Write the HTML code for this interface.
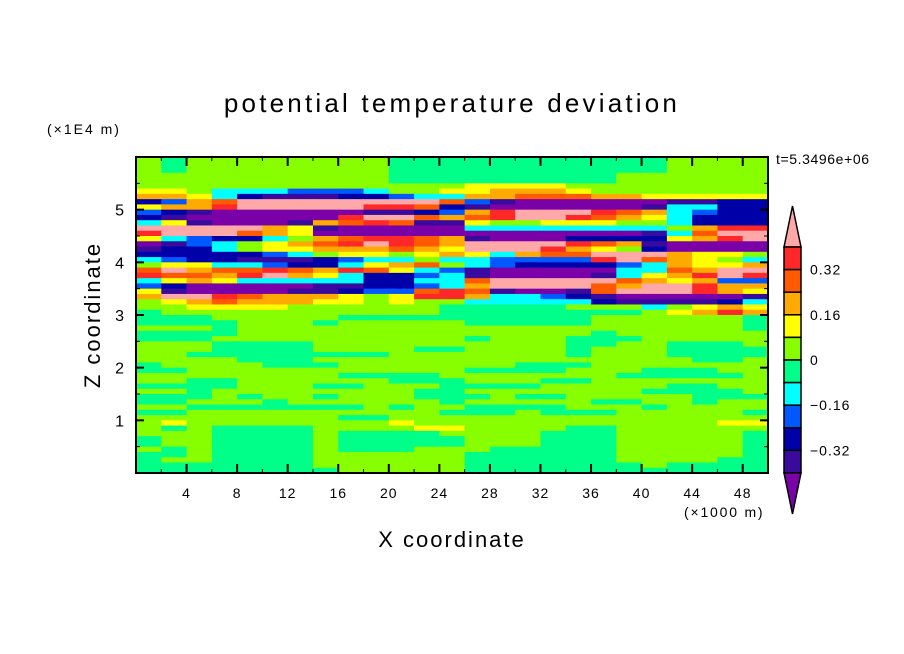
<!DOCTYPE html>
<html><head><meta charset="utf-8"><style>
html,body{margin:0;padding:0;background:#fff;}
svg{display:block;font-family:"Liberation Sans",sans-serif;}
</style></head><body>
<svg id="chart" width="904" height="654" viewBox="0 0 904 654">
<text x="452" y="112" text-anchor="middle" font-size="26" letter-spacing="3.2">potential temperature deviation</text>
<text x="47" y="134" font-size="14" letter-spacing="2">(×1E4 m)</text>
<text x="776" y="164" font-size="14" letter-spacing="0.6">t=5.3496e+06</text>
<text x="100" y="315" font-size="22" letter-spacing="2" text-anchor="middle" transform="rotate(-90 100 315)">Z coordinate</text>
<text x="452" y="547" font-size="22" letter-spacing="2" text-anchor="middle">X coordinate</text>
<text x="684" y="517" font-size="14" letter-spacing="1.8">(×1000 m)</text>
<g id="field"></g>
<g id="axes"></g>
<g id="cbar"></g>
</svg>
<script>
const levelColors = ["#7a00a8","#3a0a9e","#0000a8","#0058ff","#00ffff","#00ff88","#88ff00","#ffff00","#ffaa00","#ff5a00","#ff2828","#ffa8a8"];
const levelCodes = "PIDBCGLYOREK";
const cbarLabels = ["0.32","0.16","0","-0.16","-0.32"];
const cbarLabelValues = [0.32,0.16,0,-0.16,-0.32];
const xTicks = [4,8,12,16,20,24,28,32,36,40,44,48];
const yTicks = [1,2,3,4,5];
const gridRows = [
"L G L L L L L L L L G G G G G G G G G G G L L L L",
"L G L L L L L L L L G G G G G G G G G G G L L L L",
"L G L L L L L L L L G G G G G G G G G G G L L L L",
"L L L L L L L L L L G G G G G G G G G L L L L L L",
"L L L L L L L L L L G G G G G G G G G L L L L L L",
"L L L L L L L L L L L L L Y Y Y Y L L L L L L L L",
"Y Y L C C C B B B C L L Y Y O O O Y L L L L L L L",
"O O Y C D I I I D D B C C O O R R R O O Y Y Y Y Y",
"D B O R K K K K K K K K R B I P P P P P P I I D D",
"Y O O E K K K K K E E R D I P P P P P P I C C D D",
"B D I P P P P P P I I D B O E K K K E R O C B D D",
"D I P P P P P P E K K R O R E K K E R O Y C D D D",
"C Y I P P P I O R E R I I Y L L Y Y Y L L C D D D",
"K K K K K O Y I P P P P P C C C C C C C C L O E E",
"E K K K R O Y P P P P P P P P P P P P P I C R K K",
"Y C B D D C L O R E E R O I P P P D D D D Y O E K",
"P I B C L Y O R E K E R O K K K K E R O I P P P P",
"I D D C L Y Y O O O R O Y K K K E O Y L D P P P P",
"D D D D D B C L Y Y L Y O Y C O R R K K K O Y Y L",
"C B D D I I I D B C C L C C B B B B E K R O Y L C",
"L Y Y C C B D D C Y O R L C B D D D D B C O Y Y O",
"R K O R R E R O E R Y C B I P P P P P C C R O K K",
"E R R O E K O Y C D D B C I P P P P I C Y O E K E",
"C Y O Y C C C C C D D C C R K K K K K R O Y O B B",
"B D P P P P P I I D D B C O K K K K R O K K E O O",
"Y I P P P P I I D B B R E R I P P I R K K K E O Y",
"O K K E R O O O Y L Y E E O C C B D I P P P P P I",
"L Y O R O O O Y Y L Y L L C C C C C D I I I I D C",
"L L Y Y Y Y L L L L L L G G G G G L L L C L Y O Y",
"G L L L L L L L L L L L G G G G G G G G L Y O E O",
"G G G L L L L L G G G G G G G G G G L L L L L L G",
"G G G G L L L G L L L L L G G G G G L L L L L L G",
"L L L G L L L L L L L L L L L L L L L L L L L L G",
"G G G G L L L L L L L L L L L L L L G L L L L L L",
"G G G L L L L L L L L L L G L L L G G G L L L L L",
"L L L G G G G L L L L L L L L L L G G L L G G G L",
"L L L G G G G L L L L G G L L L L G L L L G G G G",
"L L G G G G G G G G L L L L L L L G L L L G G G G",
"L L L L G G G L L L L L L L L L L L L L L L G G L",
"G L L L L G G G L L L L L L L G G G L L L L L L L",
"G G L L L L L L L L L L L G G G G L L L G G G L L",
"L L L L L L L L G G G G L L L L L L L G G G G G L",
"L L G G L L L L L L G G G L L L G G L L L L L L L",
"G G G G L L L G G L L L G G G G L L L L L G G L L",
"L L G L L L L L L L L G G L L L L L L L G G G G L",
"G G G L G L L G L L L G G G L G G L L L L L G G G",
"G G L L L G L L L L L L G L L L L L G G L L G L L",
"L L G G G G G G G L G L L G G G G L L L G L L L L",
"G G L L L L L L L L L L G G G L G G G L L L L L G",
"L L L L L L L L G G L L L L L L L L L L L L L L L",
"L Y L L L L L L L L Y L L L L L L L L L L L L Y Y",
"L G L G G G G L L L L Y Y L L L L G G L L L L L L",
"L L L G G G G L G G G G L L L L G G G L L L L L G",
"G L L G G G G L G G G G G L L L G G G L L L L L G",
"G L L G G G G L G G G G G L L L G G G L L L L L G",
"L G L G G G G L G G G L L L G G G G G L L L L L G",
"G G L G G G G L L L L L L G G G G G G L L L L L G",
"G L L G G G G L L L L L L G G G G G G L L L L G G",
"G G G G G G G L L L L L L G G G G G G G L G G G G",
"G G G G G G G G L L L L L G G G G G G G G G G G G"
];
const X0=136,X1=768,Y0=473,Y1=157,XMAX=50,ZMAX=6;
function sx(v){return X0+(X1-X0)*v/XMAX;}
function sy(v){return Y0-(Y0-Y1)*v/ZMAX;}
const NS="http://www.w3.org/2000/svg";
function mk(tag,attrs,parent){const e=document.createElementNS(NS,tag);for(const k in attrs)e.setAttribute(k,attrs[k]);parent.appendChild(e);return e;}
const field=document.getElementById('field');
const dz=ZMAX/gridRows.length;
gridRows.forEach((row,i)=>{
  const cells=row.trim().split(/\s+/);
  const dx=XMAX/cells.length;
  const zTop=ZMAX-i*dz, zBot=ZMAX-(i+1)*dz;
  cells.forEach((c,j)=>{
    let idx=levelCodes.indexOf(c); if(idx<0) idx=6;
    const r=mk('rect',{x:sx(j*dx),y:sy(zTop),width:sx((j+1)*dx)-sx(j*dx)+0.6,height:sy(zBot)-sy(zTop)+0.6,fill:levelColors[idx]},field);
    
    
  });
});
const axes=document.getElementById('axes');
const frame=mk('rect',{x:X0,y:Y1,width:X1-X0,height:Y0-Y1,fill:'none',stroke:'#000','stroke-width':2},axes);


xTicks.forEach(t=>{
  const x=sx(t);
  mk('line',{x1:x,y1:Y0,x2:x,y2:Y0-9,stroke:'#000','stroke-width':2},axes);
  mk('line',{x1:x,y1:Y1,x2:x,y2:Y1+9,stroke:'#000','stroke-width':2},axes);
  mk('line',{x1:sx(t-2),y1:Y0,x2:sx(t-2),y2:Y0-4,stroke:'#000','stroke-width':1},axes);
  mk('line',{x1:sx(t-2),y1:Y1,x2:sx(t-2),y2:Y1+4,stroke:'#000','stroke-width':1},axes);
  const tx=mk('text',{x:x,y:Y0+25,'font-size':14,'text-anchor':'middle','letter-spacing':1},axes);
  tx.textContent=String(t);
  
  
});
yTicks.forEach(t=>{
  const y=sy(t);
  mk('line',{x1:X0,y1:y,x2:X0+8,y2:y,stroke:'#000','stroke-width':2},axes);
  mk('line',{x1:X1,y1:y,x2:X1-8,y2:y,stroke:'#000','stroke-width':2},axes);
  mk('line',{x1:X0,y1:sy(t-0.5),x2:X0+4,y2:sy(t-0.5),stroke:'#000','stroke-width':1},axes);
  mk('line',{x1:X1,y1:sy(t-0.5),x2:X1-4,y2:sy(t-0.5),stroke:'#000','stroke-width':1},axes);
  const tx=mk('text',{x:X0-12,y:y+6,'font-size':16,'text-anchor':'end'},axes);
  tx.textContent=String(t);
  
  
});
mk('line',{x1:X0,y1:sy(5.5),x2:X0+4,y2:sy(5.5),stroke:'#000'},axes);
mk('line',{x1:X1,y1:sy(5.5),x2:X1-4,y2:sy(5.5),stroke:'#000'},axes);
const cb=document.getElementById('cbar');
const CBX0=784,CBX1=801,CBTOP=247,CBBOT=473;
const nBox=levelColors.length-2;
const boxH=(CBBOT-CBTOP)/nBox;
function cy(v){return CBTOP+(0.4-v)/0.8*(CBBOT-CBTOP);}
const topArrow=mk('polygon',{points:`${CBX0},${CBTOP} ${(CBX0+CBX1)/2},206 ${CBX1},${CBTOP}`,fill:levelColors[11],stroke:'#000','stroke-width':1.5},cb);


for(let k=0;k<nBox;k++){
  const r=mk('rect',{x:CBX0,y:CBTOP+k*boxH,width:CBX1-CBX0,height:boxH,fill:levelColors[10-k],stroke:'#000','stroke-width':1.5},cb);
  
  
}
const botArrow=mk('polygon',{points:`${CBX0},${CBBOT} ${(CBX0+CBX1)/2},514 ${CBX1},${CBBOT}`,fill:levelColors[0],stroke:'#000','stroke-width':1.5},cb);


cbarLabels.forEach((l,k)=>{
  const t=mk('text',{x:810,y:cy(cbarLabelValues[k])+5,'font-size':14,'letter-spacing':1},cb);
  t.textContent=l.replace('-','\u2212');
  
  
});
</script>
</body></html>
